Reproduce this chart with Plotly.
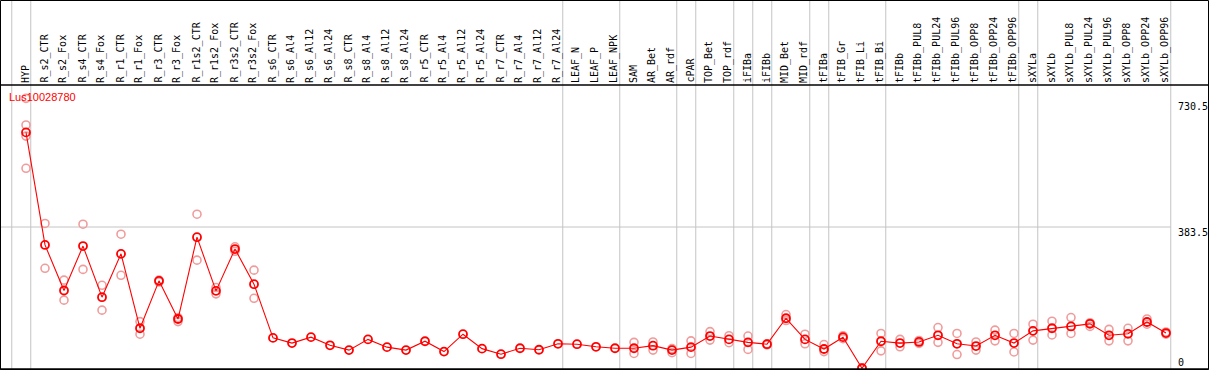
import plotly.graph_objects as go

categories = ["HYP", "R_s2_CTR", "R_s2_Fox", "R_s4_CTR", "R_s4_Fox", "R_r1_CTR", "R_r1_Fox",
              "R_r3_CTR", "R_r3_Fox", "R_r1s2_CTR", "R_r1s2_Fox", "R_r3s2_CTR", "R_r3s2_Fox",
              "R_s6_CTR", "R_s6_Al4", "R_s6_Al12", "R_s6_Al24", "R_s8_CTR", "R_s8_Al4", "R_s8_Al12",
              "R_s8_Al24", "R_r5_CTR", "R_r5_Al4", "R_r5_Al12", "R_r5_Al24", "R_r7_CTR", "R_r7_Al4",
              "R_r7_Al12", "R_r7_Al24", "LEAF_N", "LEAF_P", "LEAF_NPK", "SAM", "AR_Bet", "AR_rdf",
              "cPAR", "TOP_Bet", "TOP_rdf", "iFIBa", "iFIBb", "MID_Bet", "MID_rdf", "tFIBa",
              "tFIB_Gr", "tFIB_Li", "tFIB_Bi", "tFIBb", "tFIBb_PUL8", "tFIBb_PUL24", "tFIBb_PUL96",
              "tFIBb_OPP8", "tFIBb_OPP24", "tFIBb_OPP96", "sXYLa", "sXYLb", "sXYLb_PUL8",
              "sXYLb_PUL24", "sXYLb_PUL96", "sXYLb_OPP8", "sXYLb_OPP24", "sXYLb_OPP96"]

mean_values = [639, 335, 212, 332, 194, 311, 110, 238, 135, 356, 211, 324, 229,
               84, 70, 86, 64, 51, 80, 59, 51, 75, 47, 94, 55, 40, 56, 52, 68,
               67, 60, 56, 56, 63, 51, 59, 89, 80, 72, 67, 137, 80, 54, 86, 2, 75,
               70, 73, 91, 68, 62, 91, 70, 103, 110, 115, 122, 91, 95, 127, 97]

N = None
rep_high = [731, 393, 240, 391, 226, 364, 128, 240, 139, 418, 220, 330, 267,
            N, N, N, N, N, N, N, N, N, N, N, N, N, N, N, N, N, N, N,
            72, 73, 55, 76, 101, 90, 89, 68, 147, 94, 66, 90, 3, 96,
            80, 77, 112, 96, 73, 105, 96, 121, 129, 139, 125, 107, 110, 135, 100]
rep_low = [542, 272, 186, 269, 159, 253, 94, 235, 128, 294, 203, 318, 191,
           N, N, N, N, N, N, N, N, N, N, N, N, N, N, N, N, N, N, N,
           42, 51, 44, 42, 78, 71, 53, 65, 131, 68, 47, 82, 1, 49,
           60, 69, 72, 39, 51, 76, 46, 78, 92, 96, 115, 76, 76, 121, 94]
rep_extra_cats = ["HYP", "HYP"]
rep_extra_vals = [659, 629]

group_ends = ["HYP", "R_r7_Al24", "LEAF_NPK", "AR_rdf", "cPAR", "TOP_rdf", "iFIBa", "iFIBb",
              "MID_rdf", "tFIBa", "tFIB_Bi", "tFIBb_OPP96", "sXYLa", "sXYLb_OPP96"]

gene_name = "Lus10028780"
y_label_vals = [730.5, 383.5, 0]
y_label_text = ["730.5", "383.5", "0"]
mid_line_val = 383.5

W, H = 1209, 370
top_px, bot_px, left_px, right_px = 85, 369, 1, 1208
x0_px, step_px = 26, 19
def xval(px):
    return (px - x0_px) / step_px

RED = "#ff0000"
PINK = "#f09c9c"
GRID = "#c4c4c4"
MONO = "DejaVu Sans Mono"

fig = go.Figure()
marker_pink = dict(symbol="circle-open", size=8, color=PINK, line=dict(width=1.6, color=PINK))
fig.add_trace(go.Scatter(x=categories, y=rep_high, mode="markers", marker=marker_pink, showlegend=False))
fig.add_trace(go.Scatter(x=categories, y=rep_low, mode="markers", marker=marker_pink, showlegend=False))
fig.add_trace(go.Scatter(x=rep_extra_cats, y=rep_extra_vals, mode="markers", marker=marker_pink, showlegend=False))
fig.add_trace(go.Scatter(x=categories, y=mean_values, mode="lines+markers",
                         line=dict(color=RED, width=1.1),
                         marker=dict(symbol="circle-open", size=8, color=RED, line=dict(width=1.8, color=RED)),
                         showlegend=False))

shapes = []
idx = {c: i for i, c in enumerate(categories)}
grid_pos = [-1 + 0.25] + [idx[c] + 0.25 for c in group_ends]
for gx in grid_pos:
    shapes.append(dict(type="line", xref="x", yref="paper", x0=gx, x1=gx, y0=(H - bot_px) / H, y1=1,
                       line=dict(color=GRID, width=1), layer="below"))
shapes.append(dict(type="line", xref="x", yref="y", x0=xval(left_px), x1=grid_pos[-1],
                   y0=mid_line_val, y1=mid_line_val, line=dict(color=GRID, width=1), layer="below"))
# frame and header separator
shapes.append(dict(type="rect", xref="paper", yref="paper", x0=0.5 / W, x1=(right_px + 0.5) / W,
                   y0=0.5 / H, y1=(H - 0.5) / H, line=dict(color="black", width=1)))
shapes.append(dict(type="line", xref="paper", yref="paper", x0=0, x1=(right_px + 0.5) / W,
                   y0=(H - top_px) / H, y1=(H - top_px) / H, line=dict(color="black", width=1.5)))
shapes.append(dict(type="line", xref="paper", yref="paper", x0=0, x1=(right_px + 0.5) / W,
                   y0=(H - bot_px) / H, y1=(H - bot_px) / H, line=dict(color="black", width=1.5)))

annotations = []
for c in categories:
    annotations.append(dict(x=c, xref="x", y=(H - 84) / H, yref="paper", text=c, showarrow=False,
                            textangle=-90, xanchor="center", yanchor="bottom", xshift=-1,
                            font=dict(family=MONO, size=10, color="black"), borderpad=0))
annotations.append(dict(x=8 / W, xref="paper", y=(H - 97) / H, yref="paper", text=gene_name,
                        showarrow=False, xanchor="left", yanchor="middle",
                        font=dict(family="Liberation Sans", size=11, color=RED), borderpad=0))
shifts = [-8, -5, 7]
for v, t, s in zip(y_label_vals, y_label_text, shifts):
    annotations.append(dict(x=1177 / W, xref="paper", y=v, yref="y", text=t, showarrow=False,
                            xanchor="left", yanchor="middle", yshift=s,
                            font=dict(family=MONO, size=10, color="black"), borderpad=0))

fig.update_layout(
    width=W, height=H, margin=dict(l=0, r=0, t=0, b=0),
    paper_bgcolor="white", plot_bgcolor="white", hovermode=False,
    xaxis=dict(domain=[left_px / W, right_px / W], range=[xval(left_px), xval(right_px)],
               showticklabels=False, showgrid=False, zeroline=False, showline=False, ticks=""),
    yaxis=dict(domain=[(H - bot_px) / H, (H - top_px) / H], range=[0, 767],
               showticklabels=False, showgrid=False, zeroline=False, showline=False, ticks=""),
    shapes=shapes, annotations=annotations,
)
fig.write_html("out.html", config={"displayModeBar": False},
               post_script="document.body.style.margin='0';document.body.style.padding='0';"
                           "document.body.style.overflow='hidden';")
